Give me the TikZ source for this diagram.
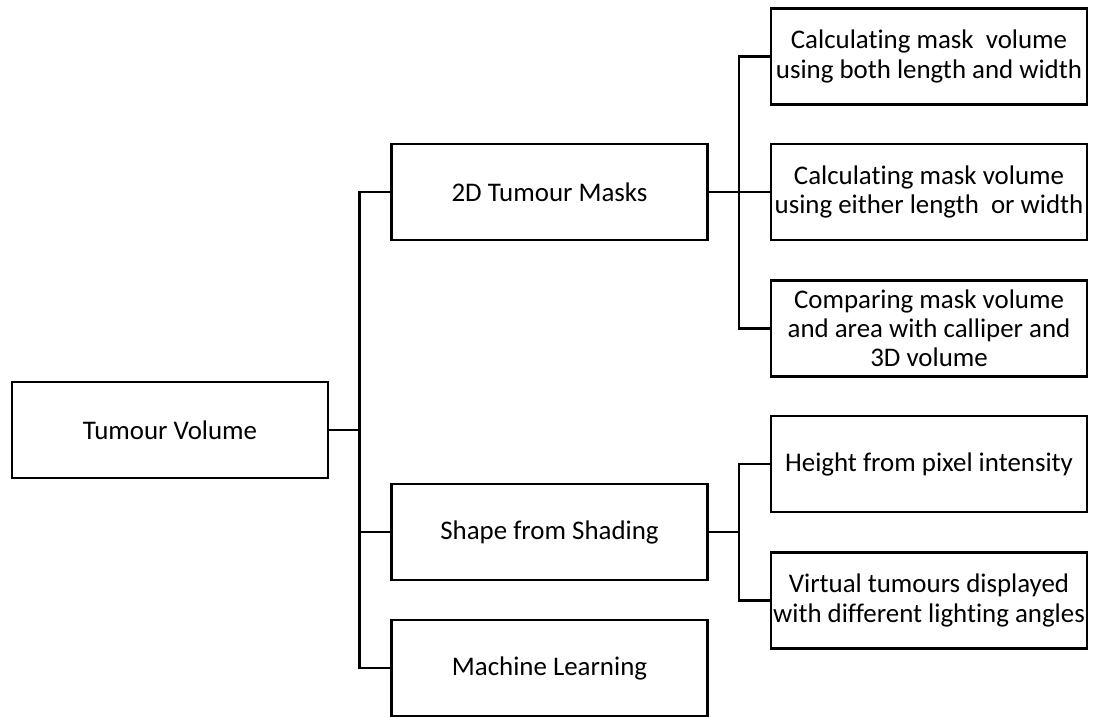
\documentclass[tikz,border=0pt]{standalone}
\usepackage{fontspec}
\setmainfont{Carlito}[Ligatures = NoCommon]
\usepackage{tikz}

\begin{document}
\begin{tikzpicture}[box/.style = {shape = rectangle, draw, line width = 1.3pt, minimum width = 6.32cm, minimum height = 1.92cm, align = center, inner sep = 0pt, font = \fontsize{15.3}{16.6}\selectfont}, link/.style = {line width = 1.3pt}]
    \useasboundingbox (0,0) rectangle (21.86,-14.32);
    % root and first level
    \node[box] (TV) at (3.40,-8.60) {Tumour Volume};
    \node[box] (M) at (10.99,-3.84) {2D Tumour Masks};
    \node[box] (S) at (10.99,-10.64) {Shape from Shading};
    \node[box] (ML) at (10.99,-13.36) {Machine Learning};
    % second level
    \node[box] (M1) at (18.58,-1.13) {Calculating mask~ volume\\using both length and width};
    \node[box] (M2) at (18.58,-3.84) {Calculating mask volume\\using either length~ or width};
    \node[box] (M3) at (18.58,-6.57) {Comparing mask volume\\and area with calliper and\\3D volume};
    \node[box] (S1) at (18.58,-9.28) {Height from pixel intensity};
    \node[box] (S2) at (18.58,-12.01) {Virtual tumours displayed\\with different lighting angles};
    % junctions
    \coordinate (J) at (7.19,-8.60);
    \coordinate (JM) at (14.78,-3.84);
    \coordinate (JS) at (14.78,-10.64);
    \draw[link] (TV) -- (J);
    \draw[link] (J) |- (M);
    \draw[link] (J) |- (S);
    \draw[link] (J) |- (ML);
    \draw[link] (M) -- (JM);
    \draw[link] (JM) |- (M1);
    \draw[link] (JM) -- (M2);
    \draw[link] (JM) |- (M3);
    \draw[link] (S) -- (JS);
    \draw[link] (JS) |- (S1);
    \draw[link] (JS) |- (S2);
\end{tikzpicture}
\end{document}
